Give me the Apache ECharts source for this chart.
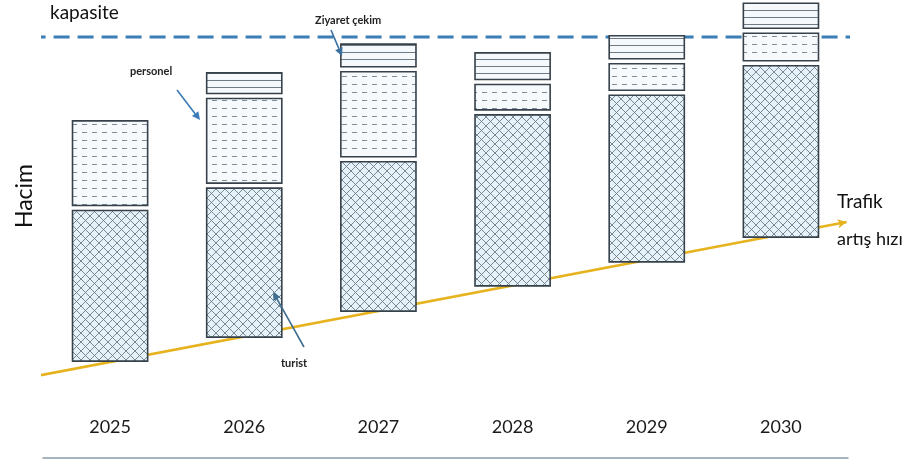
<!DOCTYPE html>
<html><head><meta charset="utf-8">
<script src="https://cdn.jsdelivr.net/npm/echarts@6/dist/echarts.min.js"></script>
<style>html,body{margin:0;padding:0;background:#fff;}#c{width:912px;height:462px;}</style>
</head><body><div id="c"></div>
<script>
// ---- data ----
const years = ['2025', '2026', '2027', '2028', '2029', '2030'];
const baseLevel = [23.6, 29.6, 36.1, 42.4, 48.4, 54.6];   // bottom of each column (traffic level)
const turist = [38.9, 38.5, 38.6, 44.0, 42.9, 44.1];
const personel = [22.4, 22.4, 22.5, 7.6, 7.9, 8.1];
const ziyaret = [0, 6.4, 6.9, 7.9, 7.0, 7.5];
const kapasite = 105.25;
const kapasiteSpan = [2024.4, 2030.59];
const trafikX = [2024.45, 2030.49];
const trafikY = [20.5, 59];

// ---- patterns ----
function pattern(kind) {
  const c = document.createElement('canvas');
  const g = c.getContext('2d');
  if (kind === 'turist') {
    c.width = 9; c.height = 9;
    g.fillStyle = '#e6f2f9'; g.fillRect(0, 0, 9, 9);
    g.strokeStyle = '#6e7a84'; g.lineWidth = 0.9;
    g.beginPath(); g.moveTo(0, 0); g.lineTo(9, 9); g.moveTo(9, 0); g.lineTo(0, 9); g.stroke();
  } else if (kind === 'personel') {
    c.width = 10; c.height = 8;
    g.fillStyle = '#f7fafc'; g.fillRect(0, 0, 10, 8);
    g.strokeStyle = '#7f8c96'; g.lineWidth = 1;
    g.beginPath(); g.moveTo(2, 4.5); g.lineTo(7, 4.5); g.stroke();
  } else {
    c.width = 10; c.height = 7;
    g.fillStyle = '#f5f9fb'; g.fillRect(0, 0, 10, 7);
    g.strokeStyle = '#6f7c86'; g.lineWidth = 1;
    g.beginPath(); g.moveTo(0, 3.5); g.lineTo(10, 3.5); g.stroke();
  }
  return { image: c, repeat: 'repeat' };
}
const fills = { turist: pattern('turist'), personel: pattern('personel'), ziyaret: pattern('ziyaret') };

// ---- segments from data ----
const segT = [], segP = [], segZ = [];
years.forEach((y, i) => {
  const t0 = baseLevel[i], t1 = t0 + turist[i], p1 = t1 + personel[i], z1 = p1 + ziyaret[i];
  segT.push([i, t0, t1]); segP.push([i, t1, p1]); segZ.push([i, p1, z1]);
});

function makeRender(fill) {
  return function (params, api) {
    const i = api.value(0), lo = api.value(1), hi = api.value(2);
    if (hi - lo <= 0) return null;
    const a = api.coord([i, lo]), b = api.coord([i, hi]);
    const w = api.size([1, 0])[0] * 0.56;
    return {
      type: 'rect',
      shape: { x: a[0] - w / 2, y: b[1] + 2.5, width: w, height: a[1] - b[1] - 5 },
      style: { fill: fill, stroke: '#36414b', lineWidth: 1.6 }
    };
  };
}

function arrow(x1, y1, x2, y2, color) {
  const ang = Math.atan2(y2 - y1, x2 - x1), L = 8, W = 4;
  const bx = x2 - L * Math.cos(ang), by = y2 - L * Math.sin(ang);
  const px = -Math.sin(ang) * W, py = Math.cos(ang) * W;
  return {
    type: 'group', silent: true, z: 100, children: [
      { type: 'line', z: 100, shape: { x1: x1, y1: y1, x2: bx, y2: by }, style: { stroke: color, lineWidth: 1.6 } },
      { type: 'polygon', z: 100, shape: { points: [[x2, y2], [bx + px, by + py], [bx - px, by - py]] }, style: { fill: color } }
    ]
  };
}

const FF = 'Lato, "Open Sans", sans-serif';
const chart = echarts.init(document.getElementById('c'));
const option = {
  animation: false,
  backgroundColor: '#ffffff',
  grid: { left: 43, right: 64, top: 0, bottom: 4 },
  xAxis: [
    {
      type: 'category', data: years, boundaryGap: true,
      axisLine: { lineStyle: { color: '#8a9cab', width: 1.5 } },
      axisTick: { show: false },
      axisLabel: { inside: true, margin: 22, fontSize: 18, color: '#1a1a1a', fontFamily: FF }
    },
    { type: 'value', min: 2024.5, max: 2030.5, show: false }
  ],
  yAxis: { type: 'value', min: 0, max: 114.5, show: false },
  series: [
    {
      type: 'line', name: 'kapasite', xAxisIndex: 1, clip: false, symbol: 'none', silent: true,
      data: [[kapasiteSpan[0], kapasite], [kapasiteSpan[1], kapasite]],
      lineStyle: { color: '#3b7db5', width: 3, type: [16, 8] }, z: 1
    },
    { type: 'custom', name: 'turist', renderItem: makeRender(fills.turist), encode: { x: 0, y: [1, 2] }, data: segT, z: 3 },
    { type: 'custom', name: 'personel', renderItem: makeRender(fills.personel), encode: { x: 0, y: [1, 2] }, data: segP, z: 3 },
    { type: 'custom', name: 'Ziyaret çekim', renderItem: makeRender(fills.ziyaret), encode: { x: 0, y: [1, 2] }, data: segZ, z: 3 },
    {
      type: 'line', name: 'Trafik artış hızı', xAxisIndex: 1, clip: false, silent: true,
      data: [
        { value: [trafikX[0], trafikY[0]], symbol: 'none' },
        { value: [trafikX[1], trafikY[1]], symbol: 'arrow', symbolSize: [7, 9], symbolRotate: -79 }
      ],
      itemStyle: { color: '#e6b31e' },
      lineStyle: { color: '#e6b31e', width: 2.5 }, z: 2
    }
  ],
  graphic: [
    { type: 'text', z: 100, left: 50, top: 3, style: { text: 'kapasite', fontSize: 19, fontFamily: FF, fill: '#111' } },
    { type: 'text', z: 100, left: 315, top: 15, style: { text: 'Ziyaret çekim', fontSize: 11, fontWeight: 'bold', fontFamily: FF, fill: '#222' } },
    { type: 'text', z: 100, left: 130, top: 66, style: { text: 'personel', fontSize: 11, fontWeight: 'bold', fontFamily: FF, fill: '#222' } },
    { type: 'text', z: 100, left: 281, top: 358, style: { text: 'turist', fontSize: 11, fontWeight: 'bold', fontFamily: FF, fill: '#222' } },
    { type: 'text', z: 100, left: 837, top: 192, style: { text: 'Trafik', fontSize: 19, fontFamily: FF, fill: '#111' } },
    { type: 'text', z: 100, left: 837, top: 230, style: { text: 'artış hızı', fontSize: 18, fontFamily: FF, fill: '#111' } },
    {
      type: 'text', z: 100, x: 25, y: 196, rotation: Math.PI / 2,
      style: { text: 'Hacim', fontSize: 23, fontFamily: FF, fill: '#111', align: 'center', verticalAlign: 'middle' }
    },
    arrow(177, 90, 200, 120, '#3a7ab8'),
    arrow(331, 30, 342, 56, '#3a6f9f'),
    arrow(304, 347, 273, 292, '#3f6f90')
  ]
};
chart.setOption(option);
</script>
</body></html>
